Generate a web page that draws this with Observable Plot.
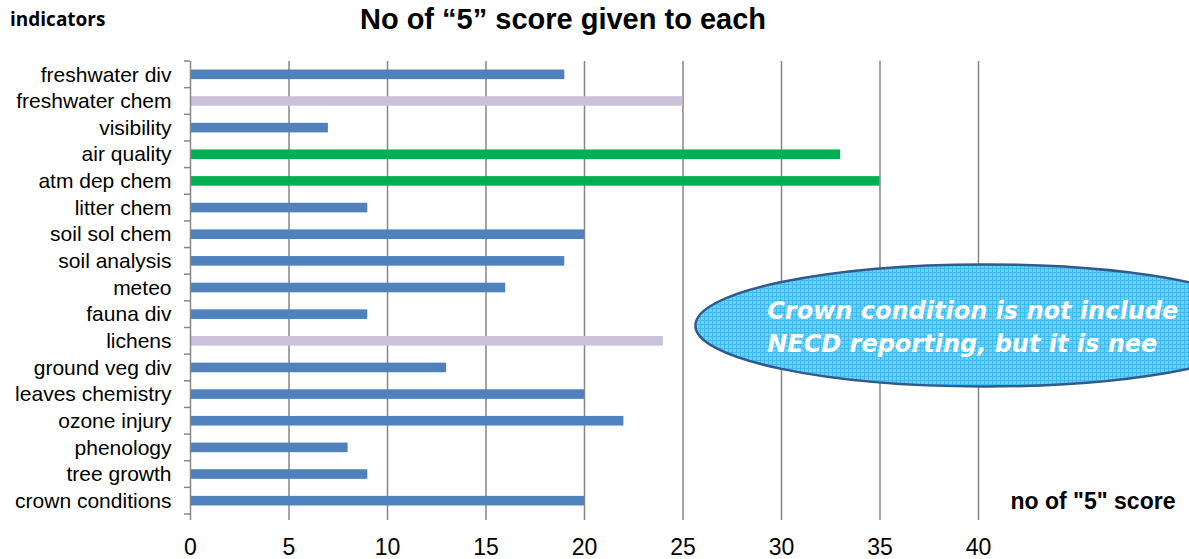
<!DOCTYPE html>
<html><head><meta charset="utf-8">
<script src="https://cdn.jsdelivr.net/npm/d3@7"></script>
<script src="https://cdn.jsdelivr.net/npm/@observablehq/plot@0.6"></script>
<style>
body{margin:0;background:#fff;width:1189px;height:559px;overflow:hidden;font-family:"Liberation Sans",Arial,sans-serif}
#hdr{position:relative;height:48px}
#ind{position:absolute;left:10px;top:6px;font:bold 19px "Open Sans",Lato,sans-serif;color:#000}
#title{position:absolute;left:0;width:1126px;text-align:center;top:3px;font:bold 29px "Liberation Sans",Arial,sans-serif;color:#000}
#chart svg{display:block}
</style></head>
<body>
<div id="hdr"><div id="ind">indicators</div><div id="title">No of “5” score given to each</div></div>
<div id="chart"></div>
<script>
const categories = ["freshwater div","freshwater chem","visibility","air quality","atm dep chem","litter chem","soil sol chem","soil analysis","meteo","fauna div","lichens","ground veg div","leaves chemistry","ozone injury","phenology","tree growth","crown conditions"];
const values = [19,25,7,33,35,9,20,19,16,9,24,13,20,22,8,9,20];
const groups = ["standard","secondary","standard","top","top","standard","standard","standard","standard","standard","secondary","standard","standard","standard","standard","standard","standard"];
const xTicks = [0,5,10,15,20,25,30,35,40];
const xLabel = "no of \"5\" score";
const noteLines = ["Crown condition is not include", "NECD reporting, but it is nee"];

const data = categories.map((c,i)=>({name:c, value:values[i], group:groups[i]}));
const grey = "#868686";

const plot = Plot.plot({
  width: 1189, height: 511,
  marginTop: 13, marginBottom: 45, marginLeft: 190, marginRight: 211,
  style: {fontFamily: "'Liberation Sans', Arial, sans-serif", color: "#000", background: "#fff"},
  x: {domain: [0,40], ticks: xTicks},
  y: {domain: categories, paddingInner: 0.64, paddingOuter: 0.32, align: 0.5, round: false},
  color: {domain: ["standard","secondary","top"], range: ["#4f81bd","#ccc1da","#00b050"]},
  marks: [
    Plot.ruleX(xTicks.slice(1), {stroke: grey, strokeWidth: 1.5}),
    Plot.barX(data, {x: "value", y: "name", fill: "group"}),
    Plot.ruleX([0], {stroke: grey, strokeWidth: 1.5}),
    Plot.axisX({ticks: xTicks, tickSize: 6, tickPadding: 18, fontSize: 23, stroke: grey, strokeWidth: 1.5, tickFormat: d=>String(d), label: null, fill: "#000"}),
    Plot.axisY({tickSize: 0, tickPadding: 19, fontSize: 21, label: null, fill: "#000"}),
    Plot.text([xLabel], {x: () => 40, y: () => categories[categories.length-1], text: d=>d, textAnchor: "start", dx: 32, fontSize: 23, fontWeight: "bold", fill: "#000"})
  ]
});
document.getElementById("chart").appendChild(plot);

// boundary ticks on the category axis, and the annotation balloon
const svg = d3.select(plot);
const xs = plot.scale("x"), ys = plot.scale("y");
const r0 = Math.min(...ys.range), r1 = Math.max(...ys.range);
const step = (r1 - r0) / categories.length;
const x0 = xs.apply(0);
const tg = svg.append("g").attr("stroke", grey).attr("stroke-width", 1.5);
for (let i = 0; i <= categories.length; i++) {
  const yy = r0 + i*step;
  tg.append("line").attr("x1", x0-6).attr("x2", x0).attr("y1", yy).attr("y2", yy);
}

const defs = svg.append("defs");
const pat = defs.append("pattern").attr("id","gridpat").attr("patternUnits","userSpaceOnUse").attr("width",4).attr("height",4);
pat.append("rect").attr("width",4).attr("height",4).attr("fill","#6fd0f7");
pat.append("path").attr("d","M0 0.5H4M0.5 0V4").attr("stroke","#3dbaf0").attr("stroke-width",1);

const iLich = categories.indexOf("lichens");
const cy = r0 + iLich*step - 2;
const cx = xs.apply(40) + 7;
const rx = xs.apply(40) - xs.apply(25.3);
const g = svg.append("g").attr("text-anchor","start");
g.append("ellipse").attr("cx", cx).attr("cy", cy).attr("rx", rx).attr("ry", 61)
  .attr("fill","url(#gridpat)").attr("stroke","#2f5a8a").attr("stroke-width",2.5);
const tx = xs.apply(29.3);
noteLines.forEach((t,i)=>{
  g.append("text").attr("x", tx).attr("y", cy - 6 + i*33).text(t)
    .attr("text-anchor","start")
    .attr("fill","#fff").attr("font-size",24).attr("font-style","italic").attr("font-weight","bold")
    .attr("font-family","'DejaVu Sans', sans-serif");
});
</script>
</body></html>
